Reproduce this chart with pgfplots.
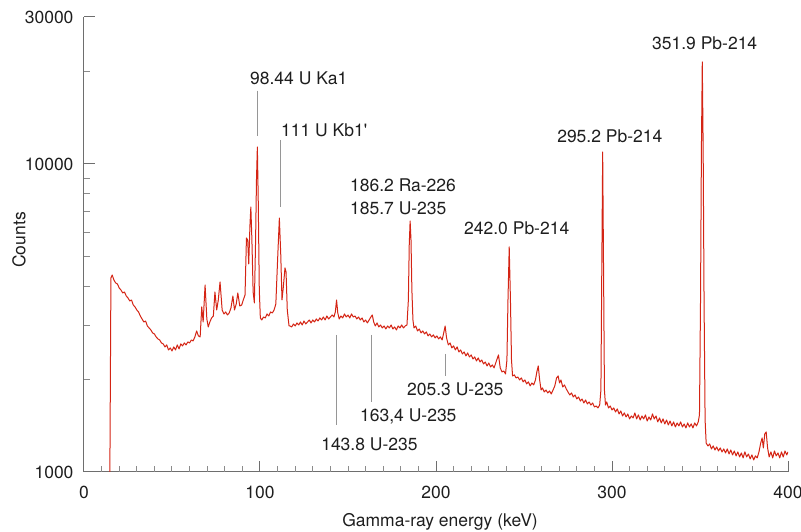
\documentclass[border=0pt]{standalone}
\usepackage{fontspec}
\setmainfont{TeX Gyre Heros}
\usepackage{pgfplots}
\pgfplotsset{compat=1.18}
\definecolor{specred}{RGB}{212,36,20}
\definecolor{axgray}{RGB}{110,110,110}
\definecolor{leadgray}{RGB}{150,150,150}
\definecolor{txt}{RGB}{30,30,30}
\begin{document}
\begin{tikzpicture}[font=\fontsize{17.5}{21}\selectfont]
\begin{axis}[
  at={(0pt,0pt)}, anchor=south west,
  scale only axis, width=704pt, height=455pt,
  xmin=0, xmax=400, ymin=1000, ymax=30000,
  ymode=log,
  axis x line*=bottom, axis y line*=left,
  axis line style={axgray, line width=1pt},
  xtick={0,100,200,300,400},
  extra x ticks={10,20,30,40,50,60,70,80,90,110,120,130,140,150,160,170,180,190,210,220,230,240,250,260,270,280,290,310,320,330,340,350,360,370,380,390},
  extra x tick labels={},
  extra x tick style={major tick length=6pt, tick style={axgray!80, line width=1pt}},
  ytick={1000,10000,30000},
  yticklabels={1000,10000,30000},
  minor ytick={2000,3000,4000,5000,6000,7000,8000,9000,20000},
  major tick length=11pt, minor tick length=6pt,
  tick align=inside,
  tick style={axgray, line width=1pt},
  minor tick style={axgray!80, line width=1pt},
  /pgf/number format/assume math mode=true,
  xticklabel shift=11pt, yticklabel shift=7pt,
  ticklabel style={text=txt},
  xlabel={Gamma-ray energy (keV)},
  ylabel={Counts},
  xlabel style={at={(axis description cs:0.5057,-0.109)}, anchor=center, text=txt},
  ylabel style={at={(axis description cs:-0.0923,0.51)}, anchor=center, text=txt},
  clip=true,
]
\addplot[specred, line width=1.0pt, line join=round] table {
x y
14.7 1000
15.3 4264
16.0 4361
17 4201
18 4108
19 4077
20 3958
21 3898
22 3813
23 3841
24 3728
25 3673
26 3591
27 3618
28 3485
29 3434
30 3357
31 3308
32 3210
33 3139
34 3069
35 3092
36 2979
37 2935
38 2891
39 2827
40 2806
41 2745
42 2704
43 2683
44 2624
45 2605
46 2547
47 2585
48 2490
49 2528
50 2472
51 2547
52 2490
53 2585
54 2509
55 2605
56 2566
57 2624
58 2585
59 2644
60 2624
61 2683
62 2664
63 2745
64 2870
65 2765
66 2745
66.9 3434
67.7 3069
68.8 4047
69.8 3139
70.6 2957
71.5 3069
72.5 3163
73.5 3210
74.4 3841
75.4 3357
76.3 3618
77.3 4139
78.5 3357
79.5 3259
80.5 3308
81.5 3234
82.5 3283
83.5 3408
84.6 3728
85.5 3357
86.5 3512
87.4 3813
88.5 3459
89.6 3485
90.5 3618
91.5 3756
92.3 5752
93.0 5665
93.6 4735
94.3 6338
94.8 7252
95.4 5665
96.1 3841
96.8 3538
97.5 5665
98.0 8873
98.5 11355
99.0 7638
99.6 3898
100.2 3163
101 3115
102 3186
103 3163
104 3259
105 3210
106 3308
107 3283
108 3357
109 3512
110 4878
111 6677
111.8 5065
112.5 3618
113.2 3958
114.2 4596
114.8 4461
115.5 3357
116.5 2979
117 2979
118 2957
119 3024
120 2979
121 3047
122 3001
123 3069
124 3001
125 3092
126 3024
127 3069
128 3115
129 3047
130 3115
131 3069
132 3139
133 3092
134 3163
135 3115
136 3186
137 3115
138 3210
139 3139
140 3186
141 3234
142 3186
142.8 3308
143.5 3618
144.2 3283
145 3139
146 3210
147 3163
148 3259
149 3186
150 3234
151 3163
152 3259
153 3186
154 3210
155 3139
156 3186
157 3115
158 3163
159 3069
160 3115
161 3047
162 3115
163 3186
163.8 3234
164.6 3069
165.5 2979
166.5 3047
167.5 2957
168.5 3001
169.5 2935
170.5 2979
171.5 2913
172.5 2979
173.5 2935
174.5 3001
175.5 2913
176.5 2957
177.5 2891
178.5 2979
179.5 2935
180.5 3001
181.5 2935
182.5 2979
183.5 3001
184.3 3618
184.8 5458
185.3 6530
185.8 5665
186.3 3898
186.9 3115
187.5 2935
188.5 2979
189.5 2870
190.5 2913
191.5 2827
192.5 2870
193.5 2806
194.5 2849
195.5 2765
196.5 2806
197.5 2745
198.5 2786
199.5 2724
200.5 2765
201.5 2704
202.5 2745
203.5 2683
204.5 2849
205.2 2979
206 2724
207 2585
208 2624
209 2528
210 2566
211 2490
212 2547
213 2453
214 2490
215 2417
216 2453
217 2381
218 2435
219 2363
220 2399
221 2328
222 2363
223 2293
224 2346
225 2276
226 2310
227 2243
228 2276
229 2209
230 2259
231 2193
232 2226
233 2177
234.5 2310
235.5 2399
236.5 2177
237.5 2113
238.5 2128
239.5 2081
240.3 2310
240.9 3618
241.6 5377
242.3 3618
242.9 2310
243.5 2050
244.5 2066
245.5 2020
246.5 2035
247.5 1990
248.5 2020
249.5 1961
250.5 1990
251.5 1932
252.5 1961
253.5 1903
254.5 1946
255.5 1917
256.5 1990
257.3 2113
258.1 2209
258.9 1990
259.7 1846
260.5 1875
261.5 1819
262.5 1846
263.5 1806
264.5 1833
265.5 1792
266.5 1846
267.5 1903
268.5 2020
269.4 2050
270.2 1946
271 1990
272 1889
273 1917
274 1861
275 1819
276 1779
277 1806
278 1752
279 1779
280 1726
281 1752
282 1700
283 1726
284 1675
285 1713
286 1663
287 1688
288 1650
289 1675
290 1626
291 1638
292 1614
293 1650
293.7 1846
294.2 4527
294.7 10939
295.2 4527
295.7 1846
296.3 1650
297 1688
298 1614
299 1638
300 1590
301 1614
302 1566
303 1602
304 1543
305 1578
306 1520
307 1555
308 1509
309 1543
310 1487
311 1520
312 1498
313 1555
314 1487
315 1532
316 1475
317 1520
318 1487
319 1532
320 1464
321 1509
322 1475
323 1543
324 1487
325 1520
326 1454
327 1498
328 1443
329 1487
330 1432
331 1475
332 1421
333 1464
334 1411
335 1454
336 1400
337 1443
338 1411
339 1454
340 1400
341 1432
342 1390
343 1443
344 1400
345 1432
346 1390
347 1443
348 1411
349 1454
349.7 1532
350.3 3618
350.8 11103
351.3 21440
351.8 11103
352.3 3618
352.9 1475
353.5 1242
354.5 1215
355.5 1233
356.5 1188
357.5 1215
358.5 1179
359.5 1206
360.5 1170
361.5 1197
362.5 1162
363.5 1188
364.5 1153
365.5 1188
366.5 1144
367.5 1179
368.5 1136
369.5 1170
370.5 1128
371.5 1162
372.5 1119
373.5 1153
374.5 1111
375.5 1162
376.5 1119
377.5 1144
378.5 1103
379.5 1136
380.5 1094
381.5 1128
382.5 1111
383.5 1162
384.5 1242
385.3 1290
386 1197
386.8 1329
387.6 1349
388.4 1197
389.3 1119
390.3 1162
391.3 1111
392.3 1170
393.3 1128
394.3 1153
395.3 1111
396.3 1162
397.3 1119
398.3 1170
399.3 1136
400 1162
};
% leader lines
\draw[leadgray, line width=0.9pt] (axis cs:98.5,17300) -- (axis cs:98.5,12330);
\draw[leadgray, line width=0.9pt] (axis cs:111.9,11963) -- (axis cs:111.9,7252);
\draw[leadgray, line width=0.9pt] (axis cs:143.6,2786) -- (axis cs:143.6,1421);
\draw[leadgray, line width=0.9pt] (axis cs:163.5,2786) -- (axis cs:163.5,1691);
\draw[leadgray, line width=0.9pt] (axis cs:205.1,2417) -- (axis cs:205.1,2050);
% peak labels
\node[anchor=west, inner sep=0pt, text=txt] at (axis cs:94.3,19020) {98.44 U Ka1};
\node[anchor=west, inner sep=0pt, text=txt] at (axis cs:111.9,12897) {111 U Kb1\textquotesingle};
\node[anchor=west, inner sep=0pt, text=txt] at (axis cs:151.1,8546) {186.2 Ra-226};
\node[anchor=west, inner sep=0pt, text=txt] at (axis cs:151.1,7196) {185.7 U-235};
\node[anchor=west, inner sep=0pt, text=txt] at (axis cs:215.9,6197) {242.0 Pb-214};
\node[anchor=west, inner sep=0pt, text=txt] at (axis cs:268.8,12330) {295.2 Pb-214};
\node[anchor=west, inner sep=0pt, text=txt] at (axis cs:322.7,24710) {351.9 Pb-214};
\node[anchor=west, inner sep=0pt, text=txt] at (axis cs:183.5,1860) {205.3 U-235};
\node[anchor=west, inner sep=0pt, text=txt] at (axis cs:156.8,1520) {163,4 U-235};
\node[anchor=west, inner sep=0pt, text=txt] at (axis cs:134.7,1233) {143.8 U-235};
\end{axis}
\pgfresetboundingbox
\path[use as bounding box] (-84pt,-59pt) rectangle (717pt,472pt);
\end{tikzpicture}
\end{document}
